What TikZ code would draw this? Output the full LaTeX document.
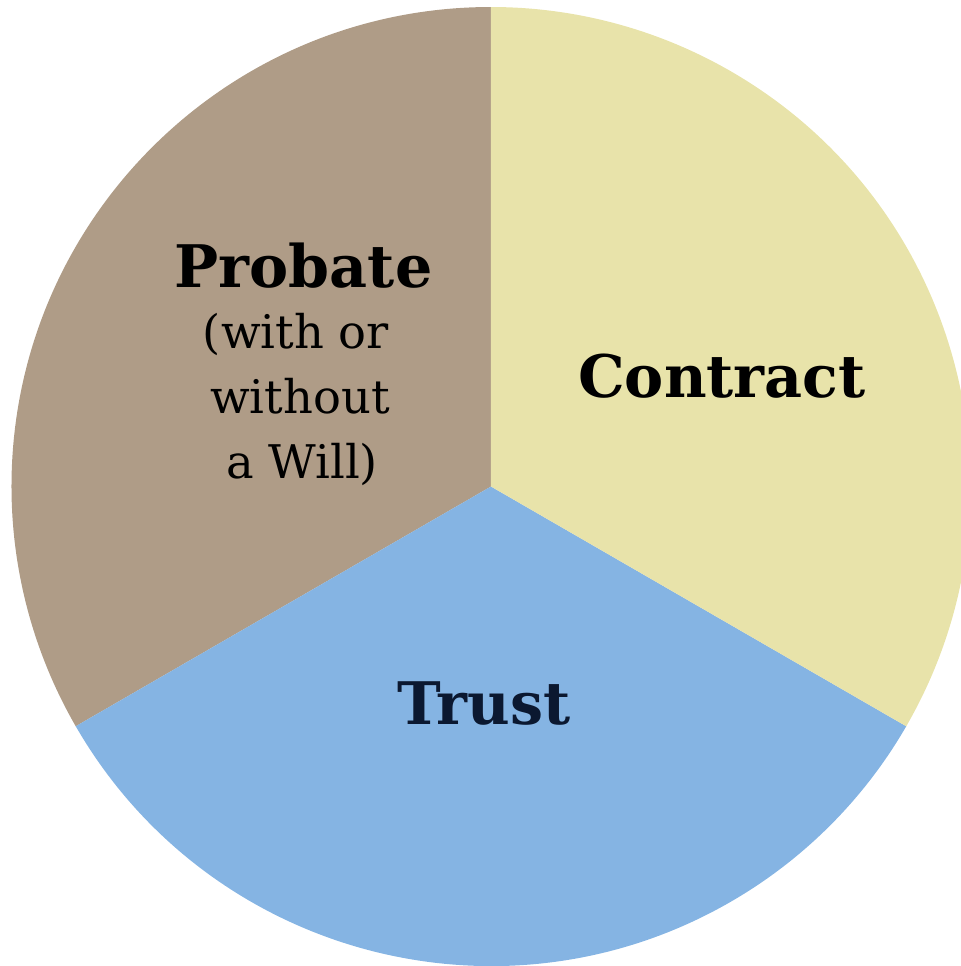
\documentclass[tikz,border=0pt]{standalone}
\usepackage{fontspec}
\setmainfont{DejaVu Serif}
\usetikzlibrary{positioning}

\definecolor{probatebrown}{HTML}{AF9C87}
\definecolor{contractyellow}{HTML}{E8E3AA}
\definecolor{trustblue}{HTML}{85B4E3}
\definecolor{trustnavy}{HTML}{0B1830}

\tikzset{
	slicelabel/.style={font=\fontsize{16.7}{19}\selectfont\bfseries, inner sep=0pt, anchor=base},
	notelabel/.style={font=\fontsize{13.2}{18}\selectfont, inner sep=0pt, anchor=base}
}

\begin{document}
\begin{tikzpicture}
				
				% Fix the page size.
				\useasboundingbox (-4.91,-4.795) rectangle (4.70,4.865);
				
				% Draw the three slices of the pie.
				\foreach \start/\stop/\col in {90/210/probatebrown, 210/330/trustblue, -30/90/contractyellow}{
					\fill[\col] (0,0) -- (\start:4.795) arc (\start:\stop:4.795) -- cycle;
				}
				
				% Draw the slice names.
				\node[slicelabel] (probate) at (-1.875,1.995) {Probate};
				\node[slicelabel] (contract) at (2.31,0.895) {Contract};
				\node[slicelabel, text=trustnavy] (trust) at (-0.07,-2.375) {Trust};
				
				% Draw the note under the probate name.
				\foreach \x/\y/\txt [count=\i] in {-1.95/1.385/{(with or}, -1.91/0.735/{without}, -1.89/0.085/{a Will)}}{
					\node[notelabel] (note\i) at (\x,\y) {\txt};
				}
				
			\end{tikzpicture}
\end{document}
